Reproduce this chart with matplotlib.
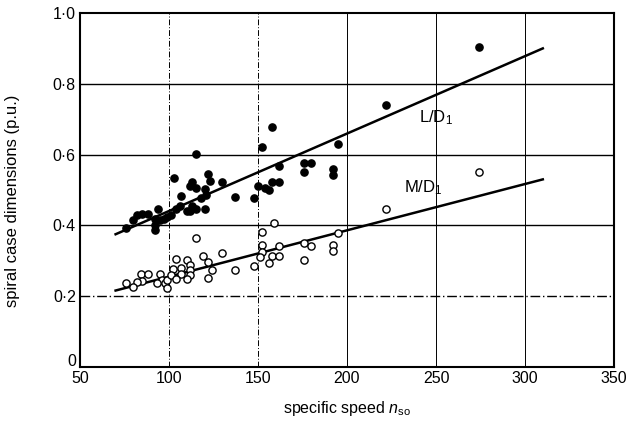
import matplotlib
matplotlib.use("Agg")
import matplotlib.pyplot as plt
import matplotlib.transforms as mtransforms
import numpy as np

plt.rcParams["font.family"] = ["Liberation Sans", "DejaVu Sans"]
plt.rcParams["mathtext.fontset"] = "custom"
plt.rcParams["mathtext.rm"] = "Liberation Sans"
plt.rcParams["mathtext.it"] = "Liberation Sans:italic"

# L/D1 measurements (filled circles)
ld_n = [274, 222, 158, 152, 115, 195, 162, 176, 180, 176, 192, 192,
        103, 122, 123, 130, 113, 112, 115, 107, 137, 148, 150, 154, 156,
        158, 162, 121, 120, 113, 115, 112, 120, 106, 101, 99, 94, 85, 88,
        82, 80, 92, 95, 97, 92, 76, 92, 110, 118, 104]
ld_v = [0.905, 0.74, 0.679, 0.621, 0.602, 0.631, 0.569, 0.575, 0.575, 0.551,
        0.56, 0.541, 0.533, 0.544, 0.526, 0.523, 0.524, 0.512, 0.507, 0.484,
        0.481, 0.476, 0.512, 0.505, 0.50, 0.523, 0.523, 0.486, 0.502, 0.454,
        0.446, 0.442, 0.445, 0.454, 0.428, 0.423, 0.445, 0.433, 0.433, 0.428,
        0.414, 0.419, 0.414, 0.417, 0.386, 0.393, 0.40, 0.44, 0.478, 0.445]

# M/D1 measurements (open circles)
md_n = [274, 222, 159, 152, 195, 152, 162, 176, 180, 192, 192, 152, 151,
        158, 162, 156, 176, 148, 137, 130, 115, 104, 110, 119, 122, 102,
        107, 112, 112, 112, 110, 124, 122, 84, 88, 95, 85, 82, 96, 93, 98,
        99, 101, 76, 80, 99, 107, 104]
md_v = [0.55, 0.446, 0.408, 0.381, 0.379, 0.344, 0.342, 0.351, 0.342, 0.344,
        0.328, 0.324, 0.31, 0.313, 0.314, 0.294, 0.303, 0.284, 0.273, 0.323,
        0.363, 0.305, 0.302, 0.314, 0.297, 0.276, 0.28, 0.288, 0.273, 0.259,
        0.25, 0.273, 0.252, 0.264, 0.264, 0.264, 0.242, 0.24, 0.245, 0.236,
        0.236, 0.245, 0.259, 0.236, 0.226, 0.222, 0.264, 0.25]

# fitted trend lines (end points)
ld_line_n = [70, 310]
ld_line_v = [0.375, 0.90]
md_line_n = [70, 310]
md_line_v = [0.216, 0.53]

x_ticks = [50, 100, 150, 200, 250, 300, 350]
y_ticks = [0, 0.2, 0.4, 0.6, 0.8, 1.0]
y_tick_labels = ["0", "0·2", "0·4", "0·6", "0·8", "1·0"]

fig = plt.figure(figsize=(6.39, 4.23), dpi=100)
ax = fig.add_axes([80 / 639, 1 - 367 / 423, 534 / 639, 354 / 423])

# grid drawn by hand so each line can get its own style
for yv in y_ticks[1:-1]:
    ls = (0, (7, 2, 1, 2)) if yv == 0.2 else "-"
    ax.axhline(yv, color="black", lw=1.0, ls=ls, zorder=1)
for xv in x_ticks[1:-1]:
    ls = (0, (6, 2, 1, 2)) if xv in (100, 150) else "-"
    ax.axvline(xv, color="black", lw=0.7, ls=ls, zorder=1)

ax.plot(ld_line_n, ld_line_v, color="black", lw=1.8, zorder=2)
ax.plot(md_line_n, md_line_v, color="black", lw=1.8, zorder=2)

ax.plot(ld_n, ld_v, "o", color="black", markersize=5.2, zorder=3)
ax.plot(md_n, md_v, "o", markerfacecolor="white", markeredgecolor="black",
        markeredgewidth=1.0, markersize=5.2, zorder=3)

ax.text(250, 0.704, "L/D$_1$", fontsize=12, ha="center", va="center")
ax.text(243, 0.507, "M/D$_1$", fontsize=12, ha="center", va="center")

ax.set_xlim(50, 350)
ax.set_ylim(0, 1.0)
ax.set_xticks(x_ticks)
ax.set_yticks(y_ticks)
ax.set_yticklabels(y_tick_labels)
ax.tick_params(length=0, labelsize=11.5, pad=3)
for s in ax.spines.values():
    s.set_linewidth(1.5)

# lift the "0" label a little so it sits above the "50"
zero = ax.get_yticklabels()[0]
zero.set_transform(zero.get_transform() +
                   mtransforms.ScaledTranslation(0, 5 / 72, fig.dpi_scale_trans))

ax.set_xlabel(r"specific speed $n_{\rm so}$", fontsize=11.5, labelpad=9)
ax.set_ylabel("spiral case dimensions (p.u.)", fontsize=12)
ax.yaxis.set_label_coords(-0.112, 0.47)

fig.savefig("out.png", dpi=100)
